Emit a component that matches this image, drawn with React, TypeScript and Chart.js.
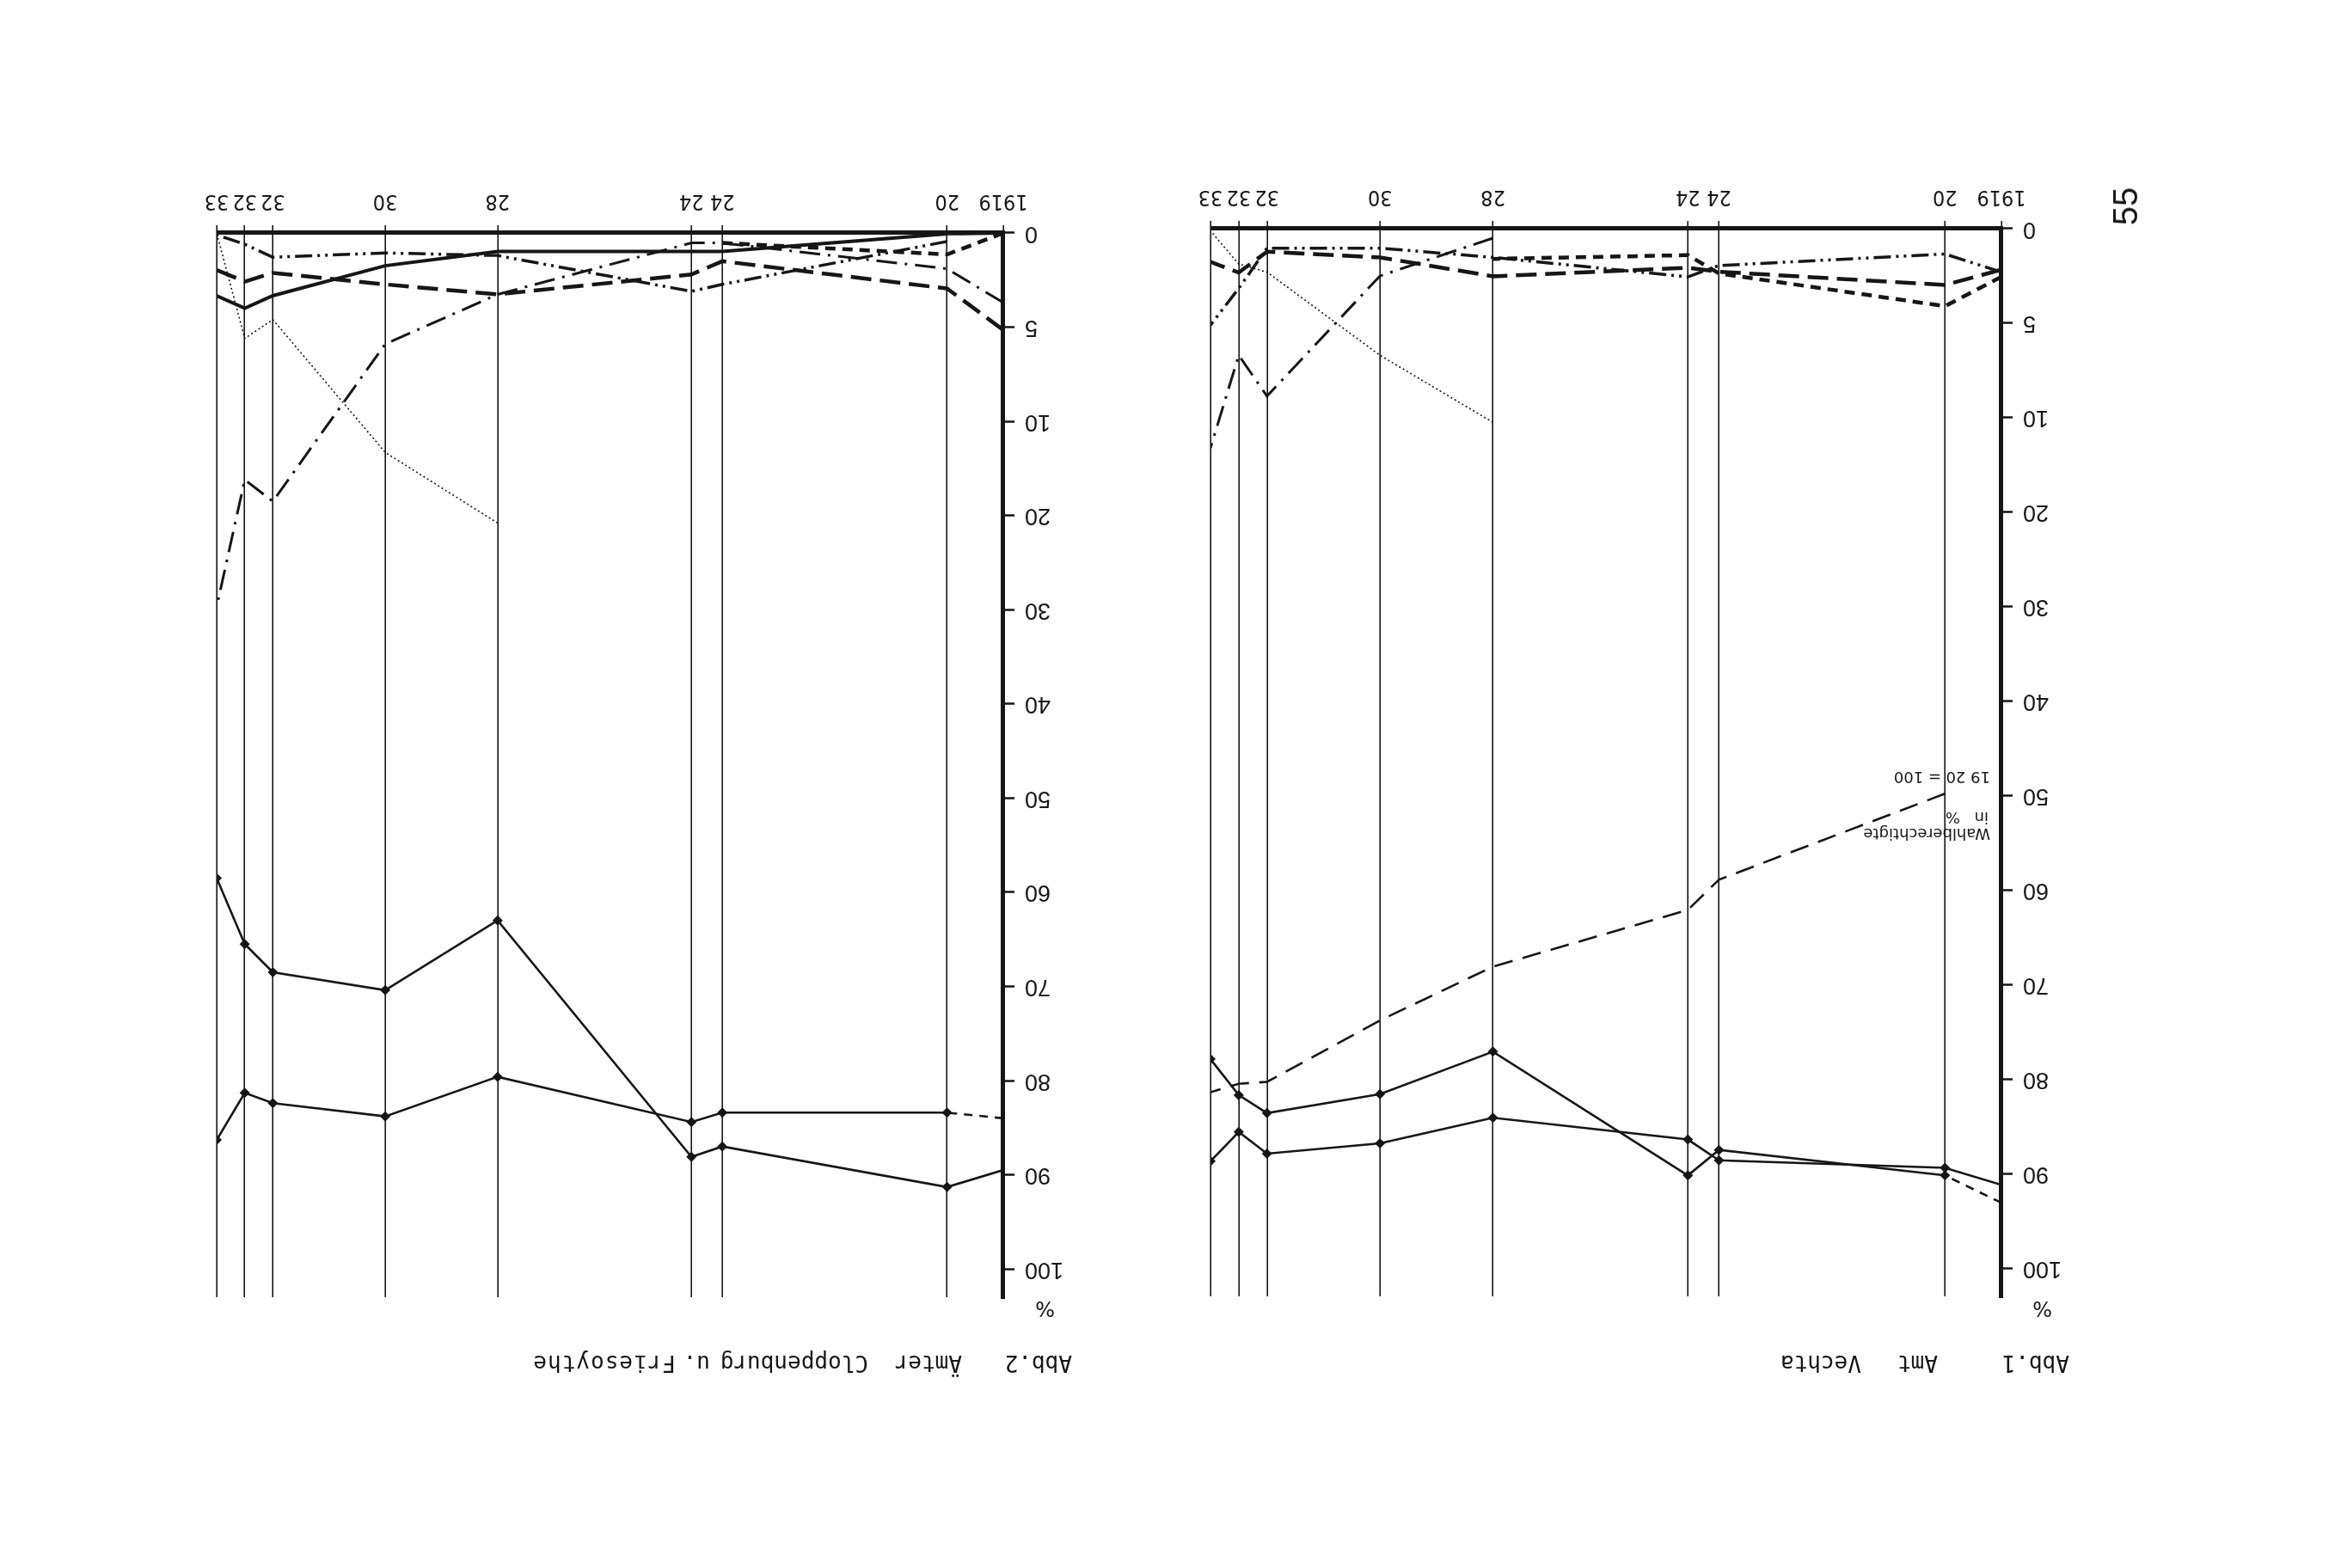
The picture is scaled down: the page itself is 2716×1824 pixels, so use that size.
import React, { useEffect, useRef } from 'react';
import { Chart, LineController, LineElement, PointElement, LinearScale } from 'chart.js';

// ---------- data ----------
const ELECTIONS = [1919, 1920, 1924, 1924.55, 1928, 1930, 1932, 1932.5, 1933];
const YEAR_LABELS = ['1919', '20', '24', '24', '28', '30', '32', '32', '33'];
const Y_TICKS = [0, 5, 10, 20, 30, 40, 50, 60, 70, 80, 90, 100];

// Abb.1 Amt Vechta
const VECHTA_UPPER_A = [93.1, 90.2, 87.5, 90.2, 77.1, 81.6, 83.6, 81.7, 77.9];
const VECHTA_UPPER_B = [91.2, 89.4, 88.6, 86.4, 84.1, 86.8, 87.9, 85.6, 88.7];
const VECHTA_WAHLBERECHTIGTE = [null, 49.8, 58.9, 62.1, 68.1, 73.8, 80.3, 80.5, 81.4];
const VECHTA_LONGDASH = [2.17, 2.98, 2.28, 2.07, 2.52, 1.52, 1.22, 2.32, 1.76];
const VECHTA_SHORTDASH = [2.55, 4.1, 2.37, 1.4, 1.6, null, null, null, null];
const VECHTA_DASHDOTDOT = [2.3, 1.34, 1.95, 2.55, 1.52, 1.03, 1.03, 3.16, 5.1];
const VECHTA_DOTTED = [null, null, null, null, 10.5, 6.7, 2.3, 1.87, 0.12];
const VECHTA_DASHDOT = [null, null, null, null, 0.5, 2.5, 8.86, 6.7, 13.2];

// Abb.2 Ämter Cloppenburg u. Friesoythe
const CLOP_UPPER_A = [89.5, 91.3, 87.0, 88.1, 63.0, 70.4, 68.5, 65.5, 58.5];
const CLOP_UPPER_B = [84.0, 83.4, 83.4, 84.4, 79.6, 83.8, 82.4, 81.3, 86.3];
const CLOP_SOLID = [0, 0.05, 0.98, 0.98, 0.98, 1.74, 3.33, 4.0, 3.33];
const CLOP_LONGDASH = [5.15, 2.95, 1.5, 2.2, 3.26, 2.73, 2.12, 2.58, 1.97];
const CLOP_SHORTDASH = [0, 1.14, 0.53, null, null, null, null, null, null];
const CLOP_DASHDOT = [3.7, 1.9, 0.53, 0.53, 3.26, 5.9, 18.5, 16.2, 29.7];
const CLOP_DASHDOTDOT = [null, 0.45, 2.73, 3.1, 1.2, 1.06, 1.29, 0.6, 0.1];
const CLOP_DOTTED = [null, null, null, null, 20.8, 13.3, 4.6, 5.6, 0];

// ---------- broken (0-10 stretched) scale ----------
const U_MAX = 11.3;
function toUnit(v: number) {
  return v <= 10 ? v / 5 : 2 + (v - 10) / 10;
}
function fromUnit(u: number) {
  return u <= 2 ? u * 5 : 10 + (u - 2) * 10;
}

class BrokenScale extends (LinearScale as any) {
  static id = 'broken';
  static defaults = {};
  determineDataLimits() {
    this.min = 0;
    this.max = fromUnit(U_MAX);
  }
  buildTicks() {
    return Y_TICKS.map((value) => ({ value }));
  }
  getPixelForValue(value: number) {
    return this.getPixelForDecimal(toUnit(value) / U_MAX);
  }
  getValueForPixel(pixel: number) {
    return fromUnit(this.getDecimalForPixel(pixel) * U_MAX);
  }
}

Chart.register(LineController, LineElement, PointElement, LinearScale, BrokenScale as any);

const INK = '#161616';

type LineSpec = {
  values: (number | null)[];
  width: number;
  dash: number[];
  dots?: boolean;
  firstDash?: number[];
};

function makeDataset(l: LineSpec) {
  return {
    data: ELECTIONS.map((x, i) => ({ x, y: l.values[i] })),
    borderColor: INK,
    backgroundColor: INK,
    borderWidth: l.width,
    borderDash: l.dash,
    borderCapStyle: 'butt',
    pointRadius: l.dots ? ELECTIONS.map((_, i) => (i === 0 ? 0 : 6)) : 0,
    pointStyle: 'rectRot',
    pointBorderWidth: 0,
    tension: 0,
    fill: false,
    spanGaps: false,
    segment: l.firstDash
      ? { borderDash: (ctx: any) => (ctx.p0DataIndex === 0 ? l.firstDash : undefined) }
      : undefined,
  };
}

const S_LONG = [24, 10];
const S_SHORT = [12, 8];
const S_DDD = [20, 6, 3, 6, 3, 6];
const S_DD = [24, 9, 3, 9];
const S_DOT = [2, 3];

const VECHTA_LINES: LineSpec[] = [
  { values: VECHTA_UPPER_A, width: 2.6, dash: [], dots: true, firstDash: [10, 8] },
  { values: VECHTA_UPPER_B, width: 2.6, dash: [], dots: true },
  { values: VECHTA_WAHLBERECHTIGTE, width: 2.6, dash: [22, 12] },
  { values: VECHTA_LONGDASH, width: 4.5, dash: S_LONG },
  { values: VECHTA_SHORTDASH, width: 4.5, dash: S_SHORT },
  { values: VECHTA_DASHDOTDOT, width: 3.5, dash: S_DDD },
  { values: VECHTA_DOTTED, width: 1.6, dash: S_DOT },
  { values: VECHTA_DASHDOT, width: 3, dash: S_DD },
];

const CLOP_LINES: LineSpec[] = [
  { values: CLOP_UPPER_A, width: 2.6, dash: [], dots: true },
  { values: CLOP_UPPER_B, width: 2.6, dash: [], dots: true, firstDash: [10, 8] },
  { values: CLOP_SOLID, width: 4, dash: [] },
  { values: CLOP_LONGDASH, width: 4.5, dash: S_LONG },
  { values: CLOP_SHORTDASH, width: 4.5, dash: S_SHORT },
  { values: CLOP_DASHDOT, width: 3, dash: S_DD },
  { values: CLOP_DASHDOTDOT, width: 3.5, dash: S_DDD },
  { values: CLOP_DOTTED, width: 1.6, dash: S_DOT },
];

const X_FONT = { family: "'DejaVu Sans Condensed', 'Liberation Sans', sans-serif", size: 25 };
const Y_FONT = { family: "'Liberation Sans', sans-serif", size: 27 };

function PanelChart(props: { lines: LineSpec[]; left: number; top: number; width: number; height: number }) {
  const ref = useRef<HTMLCanvasElement | null>(null);
  useEffect(() => {
    if (!ref.current) return;
    const chart = new Chart(ref.current, {
      type: 'line',
      data: { datasets: props.lines.map(makeDataset) as any },
      options: {
        animation: false,
        responsive: false,
        maintainAspectRatio: false,
        devicePixelRatio: 1,
        layout: { padding: { top: 10, right: 30, left: 0, bottom: 0 } },
        plugins: { legend: { display: false }, tooltip: { enabled: false }, title: { display: false } },
        scales: {
          x: {
            type: 'linear',
            min: 1919,
            max: 1933,
            position: 'bottom',
            afterBuildTicks: (s: any) => {
              s.ticks = ELECTIONS.map((value) => ({ value }));
            },
            afterFit: (s: any) => {
              s.height = 70;
              s.paddingLeft = 0;
              s.paddingRight = 0;
            },
            ticks: {
              autoSkip: false,
              maxRotation: 0,
              minRotation: 0,
              padding: 13,
              color: INK,
              font: X_FONT,
              callback: (_v: any, i: number) => YEAR_LABELS[i],
            },
            grid: { color: INK, lineWidth: 1.6, drawOnChartArea: true, drawTicks: true, tickLength: 9 },
            border: { display: true, color: INK, width: 5 },
          } as any,
          y: {
            type: 'broken',
            position: 'left',
            afterFit: (s: any) => {
              s.width = 80;
              s.paddingTop = 0;
              s.paddingBottom = 0;
            },
            ticks: {
              padding: 12,
              color: INK,
              font: Y_FONT,
              callback: (v: any) => String(v),
            },
            grid: {
              drawOnChartArea: false,
              drawTicks: true,
              tickLength: 13,
              tickWidth: 2.5,
              tickColor: INK,
              color: INK,
            },
            border: { display: true, color: INK, width: 5 },
          } as any,
        },
      } as any,
    });
    return () => chart.destroy();
  }, []);
  return (
    <canvas
      ref={ref}
      width={props.width}
      height={props.height}
      style={{ position: 'absolute', left: props.left, top: props.top, width: props.width, height: props.height }}
    />
  );
}

const textBase: React.CSSProperties = {
  position: 'absolute',
  fontFamily: 'DejaVu Sans',
  color: INK,
  lineHeight: 1,
  whiteSpace: 'nowrap',
};

function T(props: {
  x: number;
  y: number;
  size: number;
  children: React.ReactNode;
  spacing?: number;
  family?: string;
}) {
  return (
    <div
      style={{
        ...textBase,
        left: props.x,
        top: props.y,
        fontSize: props.size,
        letterSpacing: props.spacing ?? 0,
        fontFamily: props.family ?? textBase.fontFamily,
      }}
    >
      {props.children}
    </div>
  );
}

const TITLE_FONT = "'DejaVu Sans Mono', monospace";

export default function App() {
  return (
    <>
      <div
        style={{
          position: 'absolute',
          left: 0,
          top: 0,
          width: 2716,
          height: 1824,
          background: '#ffffff',
          transform: 'rotate(180deg)',
          transformOrigin: '50% 50%',
          overflow: 'hidden',
        }}
      >
        <PanelChart lines={VECHTA_LINES} left={308} top={306} width={1030} height={1322} />
        <PanelChart lines={CLOP_LINES} left={1469} top={305} width={1025} height={1318} />

        {/* titles */}
        <T x={309} y={225} size={26} family={TITLE_FONT}>Abb.1</T>
        <T x={462} y={225} size={26} family={TITLE_FONT}>Amt</T>
        <T x={551} y={225} size={26} family={TITLE_FONT}>Vechta</T>

        <T x={1469} y={225} size={26} family={TITLE_FONT}>Abb.2</T>
        <T x={1597} y={225} size={26} family={TITLE_FONT}>Ämter</T>
        <T x={1706} y={225} size={26} family={TITLE_FONT}>Cloppenburg</T>
        <T x={1890} y={225} size={26} family={TITLE_FONT}>u.</T>
        <T x={1930} y={225} size={26} family={TITLE_FONT} spacing={1}>Friesoythe</T>

        {/* percent signs */}
        <T x={329} y={290} size={24}>%</T>
        <T x={1489} y={290} size={24}>%</T>

        {/* annotation */}
        <T x={401} y={845} size={18}>Wahlberechtigte</T>
        <T x={403} y={864} size={18}>in</T>
        <T x={436} y={864} size={18}>%</T>
        <T x={401} y={911} size={18}>19 20</T>
        <T x={458} y={911} size={18}>= 100</T>
      </div>
      <div
        style={{
          ...textBase,
          fontFamily: 'Liberation Sans',
          left: 2472,
          top: 240,
          fontSize: 40,
          transform: 'translate(-50%, -50%) rotate(-90deg)',
        }}
      >
        55
      </div>
    </>
  );
}
